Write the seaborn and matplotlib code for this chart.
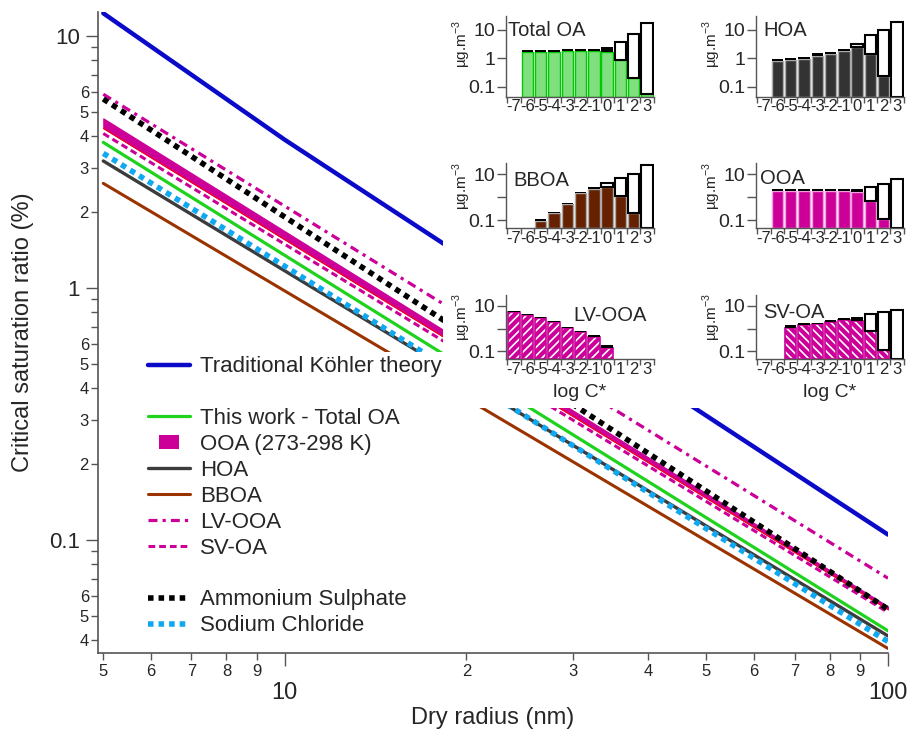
import numpy as np
import matplotlib.pyplot as plt
import seaborn as sns
from matplotlib.lines import Line2D
from matplotlib.patches import Rectangle
from matplotlib.ticker import FixedLocator, NullLocator, FuncFormatter

sns.set_theme(style='ticks')
plt.rcParams['font.family'] = ['Liberation Sans', 'DejaVu Sans']
plt.rcParams['axes.unicode_minus'] = False
plt.rcParams['hatch.linewidth'] = 1.2

nan = np.nan

# main panel: critical saturation ratio (%) against dry radius (nm)
radius_nm = [5, 100]
kohler_radius_nm = [5, 10, 100]
kohler = [12.3, 3.87, 0.105]
total_oa = [3.78, 0.0436]
ooa_upper = [4.71, 0.0545]
ooa_lower = [4.30, 0.0530]
hoa = [3.19, 0.0416]
bboa = [2.60, 0.0371]
lv_ooa = [5.87, 0.0705]
sv_oa = [4.10, 0.0516]
ammonium_sulphate = [5.62, 0.0531]
sodium_chloride = [3.42, 0.0395]

# insets: volatility distributions (ug m-3) per log C* bin
log_cstar = [-7, -6, -5, -4, -3, -2, -1, 0, 1, 2, 3]

total_oa_particle = [nan, 1.64, 1.64, 1.64, 1.78, 1.83, 1.83, 1.70, 0.84, 0.20, 0.054]
total_oa_tip = [nan, 1.99, 2.0, 2.0, 2.06, 2.16, 2.16, 2.4, nan, nan, nan]
total_oa_gas = [nan, nan, nan, nan, nan, nan, nan, nan, 3.6, 7.2, 17.6]

hoa_particle = [nan, 0.80, 0.86, 0.96, 1.22, 1.44, 1.78, 2.4, 1.36, 0.23, nan]
hoa_tip = [nan, 0.91, 0.98, 1.14, 1.48, 1.6, 2.16, nan, nan, nan, nan]
hoa_gas = [nan, nan, nan, nan, nan, nan, nan, 3.2, 6.5, 10.0, 18.0]

bboa_particle = [nan, nan, 0.098, 0.20, 0.50, 1.49, 2.3, 2.8, 1.18, 0.215, nan]
bboa_tip = [nan, nan, 0.114, 0.24, 0.59, 1.7, 2.7, 3.3, nan, nan, nan]
bboa_gas = [nan, nan, nan, nan, nan, nan, nan, 4.3, 7.2, 10.7, 25.5]

ooa_particle = [nan, 1.95, 1.95, 1.95, 1.95, 1.95, 1.95, 1.65, 0.69, 0.11, nan]
ooa_tip = [nan, 2.3, 2.3, 2.3, 2.3, 2.3, 2.3, 2.2, nan, nan, nan]
ooa_gas = [nan, nan, nan, nan, nan, nan, nan, nan, 2.7, 3.9, 6.3]

lv_ooa_particle = [5.2, 4.1, 2.8, 1.86, 1.11, 0.71, 0.45, 0.141, nan, nan, nan]
lv_ooa_tip = [6.0, 4.5, 3.1, 2.06, 1.23, 0.78, 0.50, 0.19, nan, nan, nan]
lv_ooa_gas = [nan, nan, nan, nan, nan, nan, nan, nan, nan, nan, nan]

sv_oa_particle = [nan, nan, 1.11, 1.41, 1.67, 1.86, 2.36, 2.13, 0.76, 0.119, nan]
sv_oa_tip = [nan, nan, 1.41, 1.73, 1.73, 2.36, 2.9, 3.3, nan, nan, nan]
sv_oa_gas = [nan, nan, nan, nan, nan, nan, nan, nan, 4.2, 5.2, 6.6]

BLUE = '#0a0ac8'
GREEN = '#1ed21e'
MAGENTA = '#cc0099'
GREY = '#3c3c3c'
BROWN = '#9a3300'
LBLUE = '#10a8f0'
AXIS = '#555555'

W, H = 908, 731
fig = plt.figure(figsize=(W / 100, H / 100), dpi=100)
ax = fig.add_axes([98 / W, 1 - 653 / H, 790 / W, 641.5 / H])

def line(x, y, color, lw, ls='-'):
    sns.lineplot(x=x, y=y, color=color, lw=lw, linestyle=ls, ax=ax,
                 estimator=None, sort=False)

ax.fill_between(radius_nm, ooa_lower, ooa_upper, color=MAGENTA, lw=0.8, zorder=2)
line(radius_nm, ooa_lower, 'red', 0.7)
line(radius_nm, total_oa, GREEN, 2.3)
line(radius_nm, hoa, GREY, 2.4)
line(radius_nm, bboa, BROWN, 2.2)
line(radius_nm, lv_ooa, MAGENTA, 2.3, (0, (2.8, 1.6, 1, 1.6)))
line(radius_nm, sv_oa, MAGENTA, 2.2, (0, (2.2, 1.3)))
line(radius_nm, sodium_chloride, LBLUE, 4, (0, (1, 0.9)))
line(radius_nm, ammonium_sulphate, 'black', 4, (0, (1, 0.9)))
line(kohler_radius_nm, kohler, BLUE, 3.2)

ax.set_xscale('log')
ax.set_yscale('log')
ax.set_xlim(4.9, 100)
ax.set_ylim(0.0356, 12.5)

decades = [0.01, 0.1, 1, 10]
ax.yaxis.set_major_locator(FixedLocator([0.1, 1, 10]))
ax.yaxis.set_major_formatter(FuncFormatter(lambda v, p: f'{v:g}'))
ax.yaxis.set_minor_locator(FixedLocator([m * d for d in decades for m in range(2, 10)]))
ax.yaxis.set_minor_formatter(FuncFormatter(
    lambda v, p: str(int(round(v / 10 ** np.floor(np.log10(v) + 1e-9))))
    if int(round(v / 10 ** np.floor(np.log10(v) + 1e-9))) <= 6 else ''))
ax.xaxis.set_major_locator(FixedLocator([10, 100]))
ax.xaxis.set_major_formatter(FuncFormatter(lambda v, p: f'{v:g}'))
ax.xaxis.set_minor_locator(FixedLocator([m * d for d in [1, 10] for m in range(2, 10)]))
ax.xaxis.set_minor_formatter(FuncFormatter(
    lambda v, p: str(int(round(v / 10 ** np.floor(np.log10(v) + 1e-9))))))

ax.tick_params(which='both', color=AXIS, width=1)
ax.tick_params(axis='y', which='major', length=9, labelsize=16, pad=4)
ax.tick_params(axis='y', which='minor', length=5, labelsize=12, pad=1.5)
ax.tick_params(axis='x', which='major', length=9, labelsize=17, pad=12)
ax.tick_params(axis='x', which='minor', length=5, labelsize=12, pad=3)
sns.despine(ax=ax)
for s in ['left', 'bottom']:
    ax.spines[s].set_color(AXIS)
    ax.spines[s].set_linewidth(1.2)

ax.set_ylabel('Critical saturation ratio (%)', fontsize=17)
ax.yaxis.set_label_coords(-0.095, 0.5)
ax.yaxis.label.set_va('center')
ax.set_xlabel('Dry radius (nm)', fontsize=17)
ax.xaxis.set_label_coords(0.5, -0.101)
ax.xaxis.label.set_va('center')

# white area behind the insets hides the curves
ax.add_patch(Rectangle((443 / W, 1 - 408 / H), 1, 1, transform=fig.transFigure,
                       facecolor='white', edgecolor='none', zorder=4, clip_on=False))

dot = (0, (1, 0.9))
blank = Line2D([], [], linestyle='none')
rect_marker = [(-1.5, -1), (1.5, -1), (1.5, 1), (-1.5, 1), (-1.5, -1)]
handles = [
    Line2D([], [], color=BLUE, lw=3.2),
    blank,
    Line2D([], [], color=GREEN, lw=2.3),
    Line2D([], [], linestyle='none', marker=rect_marker, markersize=15,
           color=MAGENTA, markeredgewidth=0),
    Line2D([], [], color=GREY, lw=2.4),
    Line2D([], [], color=BROWN, lw=2.2),
    Line2D([], [], color=MAGENTA, lw=2.3, linestyle=(0, (2.8, 1.6, 1, 1.6))),
    Line2D([], [], color=MAGENTA, lw=2.2, linestyle=(0, (2.2, 1.3))),
    blank,
    Line2D([], [], color='black', lw=4, linestyle=dot),
    Line2D([], [], color=LBLUE, lw=4, linestyle=dot),
]
labels = ['Traditional Köhler theory', ' ', 'This work - Total OA', 'OOA (273-298 K)',
          'HOA', 'BBOA', 'LV-OOA', 'SV-OA', ' ', 'Ammonium Sulphate', 'Sodium Chloride']
leg = ax.legend(handles, labels, loc='upper left', bbox_to_anchor=(143.6 / W, 1 - 352 / H),
                bbox_transform=fig.transFigure, fontsize=16, frameon=True, fancybox=False,
                framealpha=1, edgecolor='none', facecolor='white', borderpad=0.2,
                borderaxespad=0, handlelength=1.9, handletextpad=0.45, labelspacing=0.22)
leg.set_zorder(6)

YBOT, YTOP = 0.045, 30
edges = [c - 0.5 for c in log_cstar] + [log_cstar[-1] + 0.5]

insets = [
    ('Total OA', total_oa_particle, total_oa_tip, total_oa_gas, '#80e080', '#00c800', None, 0, 0, (0.016, 0.826)),
    ('HOA', hoa_particle, hoa_tip, hoa_gas, '#333333', '#aaaaaa', None, 1, 0, (0.05, 0.82)),
    ('BBOA', bboa_particle, bboa_tip, bboa_gas, '#662200', '#aaaaaa', None, 0, 1, (0.05, 0.74)),
    ('OOA', ooa_particle, ooa_tip, ooa_gas, MAGENTA, '#f0a0e0', None, 1, 1, (0.03, 0.77)),
    ('LV-OOA', lv_ooa_particle, lv_ooa_tip, lv_ooa_gas, MAGENTA, MAGENTA, '////', 0, 2, (0.455, 0.68)),
    ('SV-OA', sv_oa_particle, sv_oa_tip, sv_oa_gas, MAGENTA, MAGENTA, '\\\\\\\\', 1, 2, (0.05, 0.73)),
]
col_left = [505.7, 755.7]
rows = [(16, 96.7), (163.3, 228.3), (295, 359.3)]

for name, part, tip, gas, face, edge, hatch, col, row, txy in insets:
    top_px, bot_px = rows[row]
    iax = fig.add_axes([col_left[col] / W, 1 - bot_px / H, 148 / W, (bot_px - top_px) / H])
    iax.set_yscale('log')
    for i, c in enumerate(log_cstar):
        p, t, g = part[i], tip[i], gas[i]
        if not np.isnan(p) and p > YBOT:
            if hatch:
                iax.bar(c, p - YBOT, bottom=YBOT, width=0.86, facecolor=face,
                        edgecolor='white', hatch=hatch, lw=0)
                iax.bar(c, p - YBOT, bottom=YBOT, width=0.86, fill=False,
                        edgecolor=edge, lw=1.2)
            else:
                iax.bar(c, p - YBOT, bottom=YBOT, width=0.86, facecolor=face,
                        edgecolor=edge, lw=1.0)
        if not np.isnan(t):
            iax.bar(c, t - p, bottom=p, width=0.86, color='black', lw=0)
        if not np.isnan(g):
            base = p if (not np.isnan(p) and p > YBOT) else YBOT
            iax.bar(c, g - base, bottom=base, width=0.86, facecolor='white',
                    edgecolor='black', lw=1.5)
    iax.set_ylim(YBOT, YTOP)
    iax.set_xlim(-7.63, 3.5)
    iax.set_yticks([0.1, 1, 10], ['0.1', '1', '10'] if row == 0 else ['0.1', '', '10'])
    iax.yaxis.set_minor_locator(NullLocator())
    iax.set_xticks(log_cstar, [str(c) for c in log_cstar])
    iax.set_xticks(edges, minor=True)
    iax.tick_params(axis='x', which='major', length=0, labelsize=12, pad=2)
    iax.tick_params(axis='x', which='minor', length=4, width=1, color=AXIS)
    iax.tick_params(axis='y', which='major', length=6.5, width=1, color=AXIS,
                    labelsize=14, pad=1)
    sns.despine(ax=iax)
    for s in ['left', 'bottom']:
        iax.spines[s].set_color(AXIS)
        iax.spines[s].set_linewidth(1.0)
    iax.set_ylabel(r'µg.m$^{\mathregular{-3}}$', fontsize=11)
    iax.yaxis.set_label_coords(-0.295, 0.65)
    iax.yaxis.label.set_va('center')
    iax.text(txy[0], txy[1], name, transform=iax.transAxes, fontsize=14.5,
             ha='left', va='center')
    if row == 2:
        iax.set_xlabel('log C*', fontsize=14, labelpad=5)

fig.savefig('out.png', dpi=100)
